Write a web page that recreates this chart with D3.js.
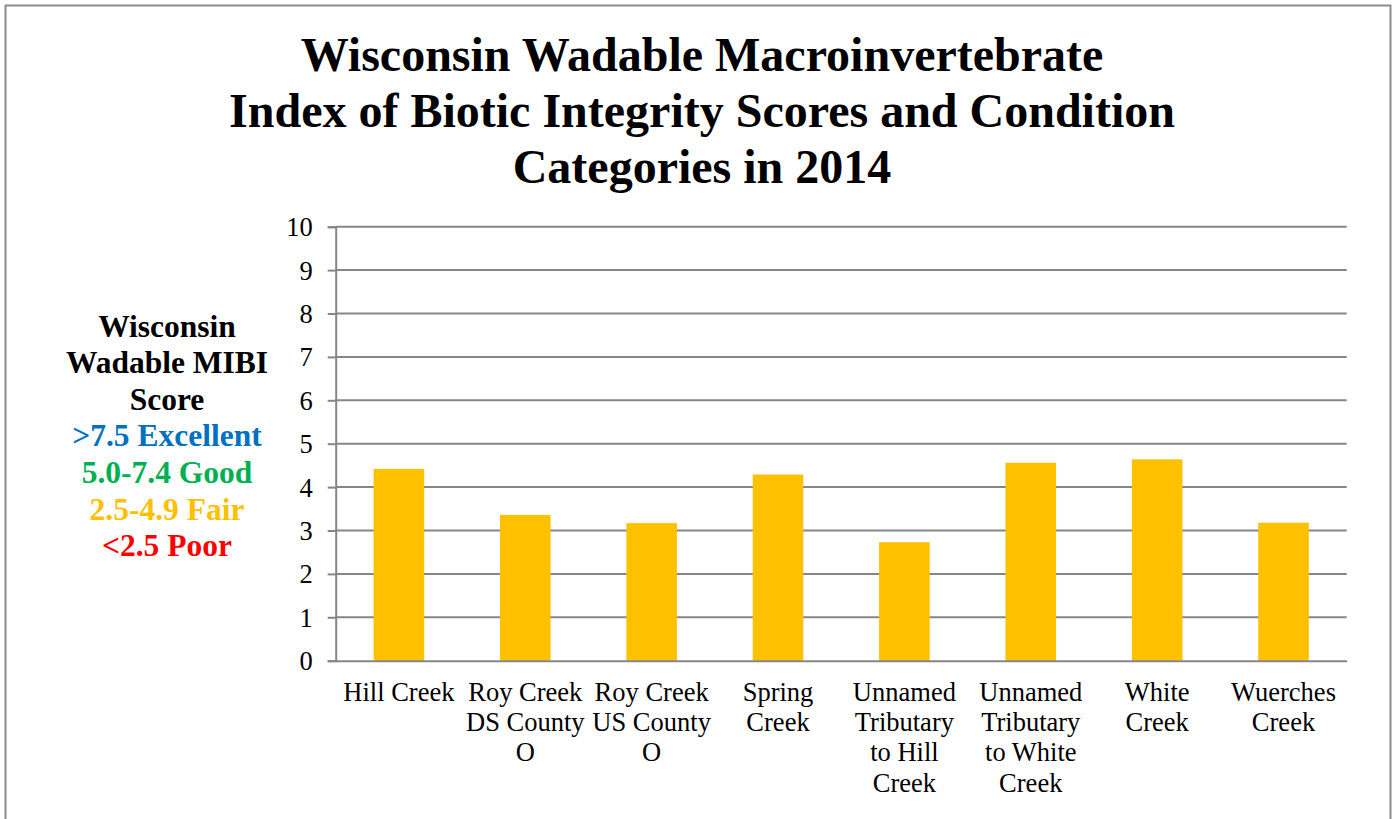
<!DOCTYPE html>
<html>
<head>
<meta charset="utf-8">
<script src="https://cdn.jsdelivr.net/npm/d3@7"></script>
<style>
  html, body { margin: 0; padding: 0; background: #fff; }
  svg { display: block; }
</style>
</head>
<body>
<svg id="chart" width="1395" height="819"></svg>
<script>
const categories = ["Hill Creek", "Roy Creek DS County O", "Roy Creek US County O", "Spring Creek",
  "Unnamed Tributary to Hill Creek", "Unnamed Tributary to White Creek", "White Creek", "Wuerches Creek"];
const categoryLines = [
  ["Hill Creek"],
  ["Roy Creek", "DS County", "O"],
  ["Roy Creek", "US County", "O"],
  ["Spring", "Creek"],
  ["Unnamed", "Tributary", "to Hill", "Creek"],
  ["Unnamed", "Tributary", "to White", "Creek"],
  ["White", "Creek"],
  ["Wuerches", "Creek"]
];
const scores = [4.42, 3.36, 3.17, 4.29, 2.73, 4.56, 4.64, 3.18];
const yTicks = [0, 1, 2, 3, 4, 5, 6, 7, 8, 9, 10];
const titleLines = ["Wisconsin Wadable Macroinvertebrate", "Index of Biotic Integrity Scores and Condition", "Categories in 2014"];
const axisTitleLines = ["Wisconsin", "Wadable MIBI", "Score"];
const conditionLabels = [">7.5 Excellent", "5.0-7.4 Good", "2.5-4.9 Fair", "<2.5 Poor"];
const conditionColors = ["#0070C0", "#00B050", "#FFC000", "#FF0000"];

const svg = d3.select("#chart");
const serif = "'Liberation Serif', 'Times New Roman', serif";
const gridColor = "#868686";

// Outer border
svg.append("rect").attr("x", 5.5).attr("y", 5.5).attr("width", 1385).attr("height", 830)
  .attr("fill", "none").attr("stroke", "#8c8c8c").attr("stroke-width", 2);

const plot = { left: 335.7, right: 1346.7, top: 226.7, bottom: 660.7 };

const x = d3.scaleBand().domain(categories).range([plot.left, plot.right]).paddingInner(0.6).paddingOuter(0.3);
const y = d3.scaleLinear().domain([0, 10]).range([plot.bottom, plot.top]);

// Gridlines
svg.append("g").selectAll("line").data(yTicks.filter(d => d > 0)).join("line")
  .attr("x1", plot.left).attr("x2", plot.right)
  .attr("y1", d => y(d)).attr("y2", d => y(d))
  .attr("stroke", gridColor).attr("stroke-width", 2);

// Y axis
const yAxis = d3.axisLeft(y).tickValues(yTicks).tickSize(8).tickPadding(15).tickFormat(d3.format("d"));
const gy = svg.append("g").attr("transform", `translate(${plot.left},0)`).call(yAxis);
gy.select(".domain").attr("stroke", gridColor).attr("stroke-width", 2);
gy.selectAll(".tick line").attr("stroke", gridColor).attr("stroke-width", 2);
gy.selectAll(".tick text").attr("font-family", serif).attr("font-size", 26.5).attr("fill", "#000")
  .attr("dy", "0.34em");

// Bars
svg.append("g").selectAll("rect").data(scores).join("rect")
  .attr("x", (d, i) => x(categories[i]))
  .attr("width", x.bandwidth())
  .attr("y", d => y(d))
  .attr("height", d => y(0) - y(d))
  .attr("fill", "#FFC000");

// X axis
const xAxis = d3.axisBottom(x).tickSize(0).tickFormat("");
const gx = svg.append("g").attr("transform", `translate(0,${plot.bottom})`).call(xAxis);
gx.select(".domain").attr("stroke", gridColor).attr("stroke-width", 2);
gx.selectAll(".tick").each(function(d, i) {
  const t = d3.select(this).append("text")
    .attr("text-anchor", "middle").attr("font-family", serif).attr("font-size", 26.5).attr("fill", "#000");
  categoryLines[i].forEach((line, k) => {
    t.append("tspan").attr("x", 0).attr("y", 40 + k * 30.3).text(line);
  });
});

// Title
const title = svg.append("text").attr("text-anchor", "middle").attr("font-family", serif)
  .attr("font-weight", "bold").attr("font-size", 48).attr("fill", "#000");
titleLines.forEach((line, k) => {
  title.append("tspan").attr("x", 702).attr("y", 71 + k * 56).text(line);
});

// Axis title + condition categories
const at = svg.append("text").attr("text-anchor", "middle").attr("font-family", serif)
  .attr("font-weight", "bold").attr("font-size", 31.5);
axisTitleLines.forEach((line, k) => {
  at.append("tspan").attr("x", 167).attr("y", 336.5 + k * 36.6).attr("fill", "#000").text(line);
});
conditionLabels.forEach((line, k) => {
  at.append("tspan").attr("x", 167).attr("y", 336.5 + (k + 3) * 36.6).attr("fill", conditionColors[k]).text(line);
});
</script>
</body>
</html>
